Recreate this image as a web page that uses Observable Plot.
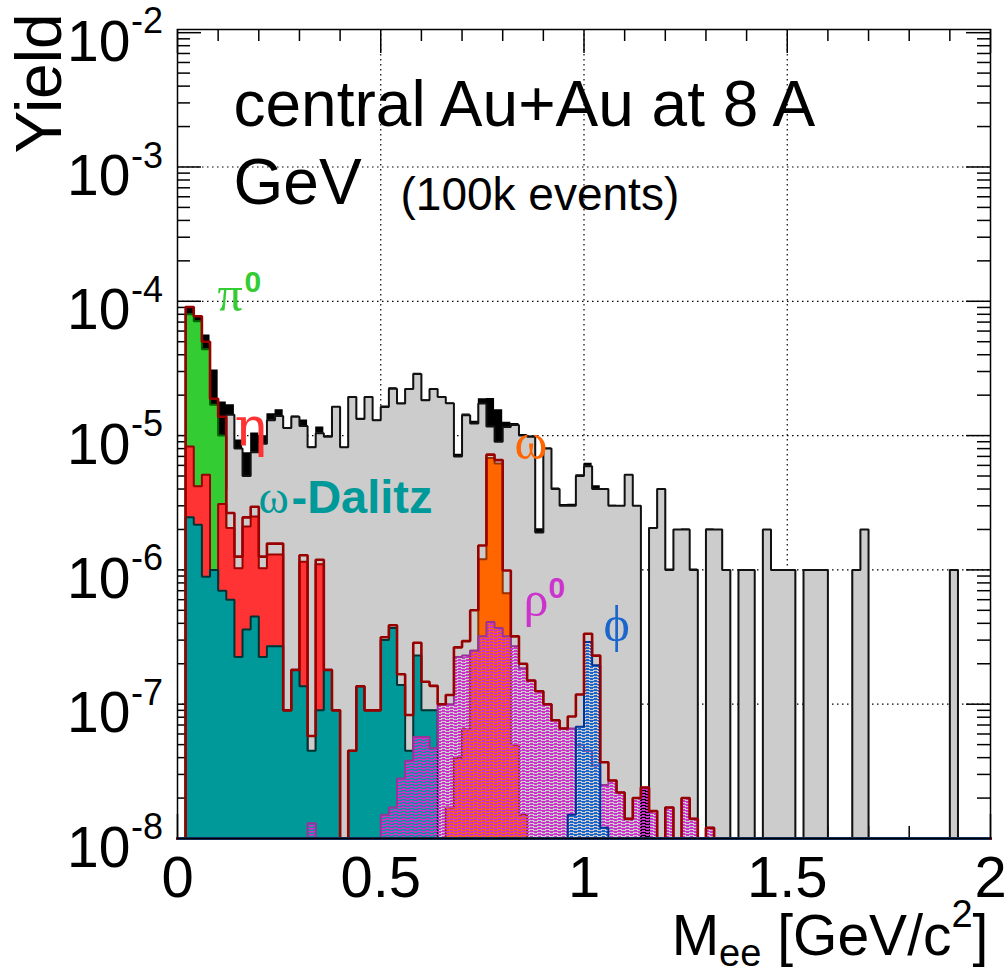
<!DOCTYPE html>
<html><head><meta charset="utf-8">
<script src="https://cdn.jsdelivr.net/npm/d3@7"></script>
<script src="https://cdn.jsdelivr.net/npm/@observablehq/plot@0.6"></script>
<style>body{margin:0;background:#fff}#chart{width:1007px;height:979px}</style>
</head><body><div id="chart"></div>
<script>
// ---------- data: 100 bins of 0.02 GeV/c^2 from 0 to 2 ----------
const binWidth = 0.02;
const nBins = 100;

// grey histogram (other sources)
const gray = [
0,0,0,6e-6,1.2e-5,4e-6,1.43e-5,8.0e-6,5.0e-6,7.5e-6,
8.7e-6,1.3e-5,1.4e-5,1.14e-5,1.38e-5,1.18e-5,8.2e-6,1.04e-5,9.8e-6,1.64e-5,
8.2e-6,1.94e-5,1.33e-5,1.94e-5,1.3e-5,1.63e-5,2.23e-5,1.73e-5,2.22e-5,2.88e-5,
1.83e-5,2.22e-5,1.94e-5,1.74e-5,7.0e-6,1.42e-5,1.23e-5,1.73e-5,1.17e-5,9.0e-6,
1.16e-5,1.2e-5,1.0e-5,9.8e-6,1.9e-6,8.0e-6,4.0e-6,3.0e-6,3.0e-6,5.0e-6,
5.9e-6,4.0e-6,4.0e-6,3.0e-6,3.0e-6,5.1e-6,3.0e-6,0,2.05e-6,4.0e-6,
1.0e-6,2.0e-6,2.0e-6,1.0e-6,0,2.0e-6,2.0e-6,1.0e-6,0,1.0e-6,
1.0e-6,0,2.0e-6,1.0e-6,1.0e-6,1.0e-6,0,1.0e-6,1.0e-6,1.0e-6,
0,0,0,1.0e-6,2.0e-6,0,0,0,0,0,
0,0,0,0,0,1.0e-6,0,0,0,0];

// pi0 Dalitz
const pi0 = [0,8.0e-5,7.1e-5,4.4e-5,1.7e-5,1.0e-5];
// eta Dalitz
const eta = [0,8.3e-6,4.2e-6,5.1e-6,8e-7,3.1e-6,2.05e-6,1.03e-6,2.1e-6,2.5e-6,
1.03e-6,1.3e-6,1.3e-6,0,0,1.15e-6,0,1.1e-6];
// omega Dalitz
const omegaDalitz = [0,2.47e-6,2.17e-6,8.9e-7,1.0e-6,7.0e-7,6.0e-7,2.25e-7,3.6e-7,4.5e-7,
2.25e-7,2.7e-7,2.7e-7,9.0e-8,1.8e-7,1.36e-7,4.5e-8,9.0e-8,1.8e-7,9.0e-8,
0,4.5e-8,1.36e-7,9.0e-8,9.0e-8,3.0e-7,3.7e-7,1.39e-7,4.5e-8,2.3e-7,
9.0e-8,9.0e-8];
// omega direct (bins 33..42)
const omegaStart = 33;
const omega = [1.7e-8,4e-8,6.5e-8,2.5e-7,1.2e-6,6.8e-6,6.2e-6,6.7e-7,5e-8,1.5e-8];
// rho0 (bins 16..65)
const rhoStart = 16;
const rho = [1.3e-8,0,0,0,0,0,0,0,0,1.5e-8,
1.7e-8,2.8e-8,3.8e-8,5.7e-8,5.7e-8,4.7e-8,1.0e-7,1.0e-7,2.25e-7,2.3e-7,
2.5e-7,3.2e-7,4.1e-7,3.7e-7,3.2e-7,2.7e-7,1.85e-7,1.5e-7,1.25e-7,1.0e-7,
7.6e-8,6.6e-8,6.6e-8,5.0e-8,4.5e-8,3.5e-8,2.5e-8,2.7e-8,2.2e-8,1.4e-8,
2.0e-8,2.4e-8,1.6e-8,0,1.7e-8,0,2.0e-8,1.4e-8,0,1.2e-8];
// phi (bins 48..52)
const phiStart = 48;
const phi = [1.5e-8,6.8e-8,2.9e-7,1.95e-7,1.2e-8];

// axis ticks / labels
const xTickVals = [0, 0.5, 1, 1.5, 2];
const xTickText = ["0", "0.5", "1", "1.5", "2"];
const xMinorVals = [0.1,0.2,0.3,0.4,0.6,0.7,0.8,0.9,1.1,1.2,1.3,1.4,1.6,1.7,1.8,1.9];
const yTickVals = [1e-8, 1e-7, 1e-6, 1e-5, 1e-4, 1e-3, 1e-2];
const yTickExp = ["-8", "-7", "-6", "-5", "-4", "-3", "-2"];
const yMinorVals = [];
for (let d = -8; d <= -3; d++) for (let m = 2; m <= 9; m++) yMinorVals.push(m * Math.pow(10, d));

// ---------- helpers ----------
const floor = 1e-8;
const yTop = 1.056e-2;
function full(arr, start = 0) {
  const out = new Array(nBins).fill(0);
  arr.forEach((v, i) => { out[start + i] = v; });
  return out;
}
const S = {
  gray: full(gray), pi0: full(pi0), eta: full(eta), omegaDalitz: full(omegaDalitz),
  omega: full(omega, omegaStart), rho: full(rho, rhoStart), phi: full(phi, phiStart)
};
const cocktail = d3.range(nBins).map(i => S.pi0[i] + S.eta[i] + S.omegaDalitz[i] + S.omega[i] + S.rho[i] + S.phi[i]);
const total = d3.range(nBins).map(i => S.gray[i] + cocktail[i]);

function steps(vals) {
  const pts = [{x: 0, y: floor}];
  vals.forEach((v, i) => {
    const y = Math.max(v, floor);
    pts.push({x: i * binWidth, y}, {x: (i + 1) * binWidth, y});
  });
  pts.push({x: nBins * binWidth, y: floor});
  return pts;
}
function hist(vals, fill, stroke, sw, cls) {
  const pts = steps(vals);
  const marks = [];
  if (fill) marks.push(Plot.areaY(pts, {x: "x", y1: () => floor, y2: "y", fill, className: cls}));
  if (stroke) marks.push(Plot.line(pts, {x: "x", y: "y", stroke, strokeWidth: sw, strokeLinejoin: "miter", strokeLinecap: "square"}));
  return marks;
}

// annotation labels (data coordinates)
const labels = [
  {t: "central Au+Au at 8 A", x: 0.1378, y: 2.86e-3, s: 64, c: "#000", f: "Liberation Sans", w: "normal"},
  {t: "GeV", x: 0.1378, y: 7.51e-4, s: 64, c: "#000", f: "Liberation Sans", w: "normal"},
  {t: "(100k events)", x: 0.5486, y: 6.18e-4, s: 46, c: "#000", f: "Liberation Sans", w: "normal"},
  {t: "π", x: 0.0984, y: 1.112e-4, s: 50, c: "#33cc33", f: "Liberation Serif", w: "normal"},
  {t: "0", x: 0.1648, y: 1.394e-4, s: 30, c: "#33cc33", f: "Liberation Sans", w: "bold"},
  {t: "η", x: 0.1402, y: 1.129e-5, s: 54, c: "#ff3333", f: "DejaVu Serif", w: "normal"},
  {t: "ω", x: 0.1993, y: 3.44e-6, s: 46, c: "#009999", f: "Liberation Serif", w: "normal"},
  {t: "-Dalitz", x: 0.2804, y: 3.44e-6, s: 47, c: "#009999", f: "Liberation Sans", w: "bold"},
  {t: "ω", x: 0.829, y: 8.79e-6, s: 50, c: "#ff6600", f: "Liberation Serif", w: "normal"},
  {t: "ρ", x: 0.851, y: 5.96e-7, s: 50, c: "#cc33cc", f: "Liberation Serif", w: "normal"},
  {t: "0", x: 0.9127, y: 7.34e-7, s: 30, c: "#cc33cc", f: "Liberation Sans", w: "bold"},
  {t: "ϕ", x: 1.048, y: 3.88e-7, s: 50, c: "#1a66cc", f: "Liberation Serif", w: "normal"}
];

const marks = [
  // grid
  Plot.ruleY([1e-7, 1e-6, 1e-5, 1e-4, 1e-3], {stroke: "#000", strokeWidth: 1.2, strokeDasharray: "1.5,3.5"}),
  Plot.ruleX([0.5, 1, 1.5], {stroke: "#000", strokeWidth: 1.2, strokeDasharray: "1.5,3.5"}),
  // ticks
  Plot.ruleY(yTickVals, {x1: () => 0, x2: () => 0.059, stroke: "#000", strokeWidth: 1.5}),
  Plot.ruleY(yMinorVals, {x1: () => 0, x2: () => 0.032, stroke: "#000", strokeWidth: 1.5}),
  Plot.ruleY(yTickVals, {x1: () => 2 - 0.059, x2: () => 2, stroke: "#000", strokeWidth: 1.5}),
  Plot.ruleY(yMinorVals, {x1: () => 2 - 0.032, x2: () => 2, stroke: "#000", strokeWidth: 1.5}),
  Plot.ruleX(xTickVals, {y1: () => floor, y2: () => floor * 1.509, stroke: "#000", strokeWidth: 1.5}),
  Plot.ruleX(xMinorVals, {y1: () => floor, y2: () => floor * 1.229, stroke: "#000", strokeWidth: 1.5}),
  Plot.ruleX(xTickVals, {y1: () => yTop / 1.509, y2: () => yTop, stroke: "#000", strokeWidth: 1.5}),
  Plot.ruleX(xMinorVals, {y1: () => yTop / 1.229, y2: () => yTop, stroke: "#000", strokeWidth: 1.5}),
  // histograms
  ...hist(total, "#000", null, 0),
  ...hist(S.gray, "#cccccc", "#111", 2),
  ...hist(S.pi0, "#33cc33", "#006600", 2),
  ...hist(S.eta, "#ff3333", "#990000", 2),
  ...hist(S.omegaDalitz, "#009999", "#003333", 2),
  ...hist(S.omega, "#ff6600", "#993300", 2),
  ...hist(S.rho, "#cc33cc", "#993399", 2, "rhoFill"),
  ...hist(S.phi, "#1a66cc", "#003399", 2, "phiFill"),
  ...hist(cocktail, null, "#990000", 2.6),
  Plot.ruleY([floor], {stroke: "#1a3a70", strokeWidth: 3}),
  Plot.frame({stroke: "#000", strokeWidth: 1.5}),
  // tick labels
  Plot.text(xTickVals, {x: d => d, y: () => floor, text: (d, i) => xTickText[i], dy: 40.4, fontSize: 58, fill: "#000", textAnchor: "middle"}),
  Plot.text(yTickVals, {x: () => -0.1156, y: d => d, text: () => "10", dy: 9.8, fontSize: 57, fill: "#000", textAnchor: "end"}),
  Plot.text(yTickVals, {x: () => -0.1144, y: d => d, text: (d, i) => yTickExp[i], dy: -11, fontSize: 36, fill: "#000", textAnchor: "start"}),
  // axis titles
  Plot.text(["Yield"], {x: () => -0.337, y: () => 1.39e-2, text: d => d, rotate: -90, fontSize: 64, fill: "#000", textAnchor: "end"}),
  Plot.text(["M_{ee} [GeV/c^{2}]"], {x: () => 1.995, y: () => 1.60e-9, text: d => d, dy: -9, fontSize: 57, fill: "#000", textAnchor: "end", className: "xtitle"}),
  // annotations
  ...labels.map(l => Plot.text([l], {x: "x", y: "y", text: "t", fontSize: l.s, fill: l.c, fontFamily: l.f, fontWeight: l.w, textAnchor: "start"}))
];

const svg = Plot.plot({
  width: 1007, height: 979,
  marginLeft: 177, marginRight: 17, marginTop: 29, marginBottom: 141,
  x: {domain: [0, 2], axis: null},
  y: {type: "log", domain: [floor, yTop], axis: null},
  style: {fontFamily: "Liberation Sans", background: "white", overflow: "visible"},
  marks
});

// hatch patterns for rho0 and phi
const ns = "http://www.w3.org/2000/svg";
const defs = document.createElementNS(ns, "defs");
function hatch(id, c) {
  return `<pattern id="${id}" width="8" height="3" patternUnits="userSpaceOnUse">
 <rect x="0" y="0" width="8" height="1" fill="${c}"/>
 <rect x="0" y="1" width="1" height="1" fill="${c}"/>
 <rect x="6" y="1" width="2" height="1" fill="${c}"/>
 <rect x="2" y="2" width="3" height="1" fill="${c}"/>
</pattern>`;
}
defs.innerHTML = hatch("rhoHatch", "#cc33cc") + hatch("phiHatch", "#1a66cc");
svg.insertBefore(defs, svg.firstChild);
d3.select(svg).selectAll(".rhoFill, .rhoFill path").attr("fill", "url(#rhoHatch)");
d3.select(svg).selectAll(".phiFill, .phiFill path").attr("fill", "url(#phiHatch)");

// x-axis title with subscript / superscript
d3.select(svg).selectAll(".xtitle text").each(function() {
  const sel = d3.select(this);
  sel.text(null);
  sel.append("tspan").text("M");
  sel.append("tspan").attr("font-size", 38).attr("dy", 11).text("ee");
  sel.append("tspan").attr("dy", -11).text(" [GeV/c");
  sel.append("tspan").attr("font-size", 38).attr("dy", -28).text("2");
  sel.append("tspan").attr("dy", 28).text("]");
});

document.getElementById("chart").appendChild(svg);
</script>
</body></html>
